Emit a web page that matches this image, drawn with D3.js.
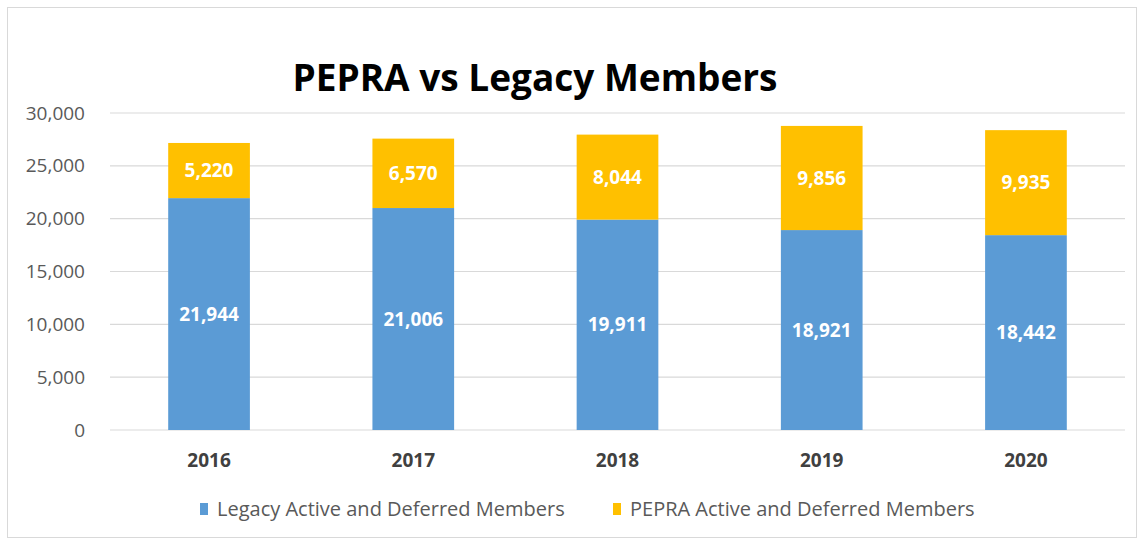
<!DOCTYPE html>
<html>
<head>
<meta charset="utf-8">
<script src="https://cdn.jsdelivr.net/npm/d3@7"></script>
<style>
  body { margin: 0; background: #fff; }
  text { font-family: "Open Sans", "Noto Sans", sans-serif; }
</style>
</head>
<body>
<div id="maViz"></div>
<script>
// Données
const years = ["2016", "2017", "2018", "2019", "2020"];
const legacy = [21944, 21006, 19911, 18921, 18442];
const pepra = [5220, 6570, 8044, 9856, 9935];
const yTicks = [0, 5000, 10000, 15000, 20000, 25000, 30000];
const seriesNames = ["Legacy Active and Deferred Members", "PEPRA Active and Deferred Members"];

const W = 1141, H = 542;
const margin = {top: 113, right: 16, bottom: 112, left: 110};
const width = W - margin.left - margin.right;
const height = H - margin.top - margin.bottom;
const colors = ["#5b9bd5", "#ffc000"];

const root = d3.select("#maViz").append("svg")
  .attr("width", W).attr("height", H);

// cadre
root.append("rect")
  .attr("x", 7.5).attr("y", 7.5)
  .attr("width", 1129).attr("height", 530)
  .attr("fill", "#fff").attr("stroke", "#d9d9d9");

const svg = root.append("g")
  .attr("transform", `translate(${margin.left},${margin.top})`);

// échelles
const x = d3.scaleBand()
  .domain(years)
  .range([0, width])
  .paddingInner(0.6)
  .paddingOuter(0.285);

const y = d3.scaleLinear()
  .domain([0, 30000])
  .range([height, 0]);

// grille
svg.append("g")
  .selectAll("line")
  .data(yTicks)
  .join("line")
    .attr("x1", 0).attr("x2", width)
    .attr("y1", d => y(d)).attr("y2", d => y(d))
    .attr("stroke", "#d9d9d9").attr("stroke-width", 1.2);

// axe Y
const yAxis = svg.append("g")
  .attr("transform", "translate(-22,0)")
  .call(d3.axisLeft(y).tickValues(yTicks).tickSize(0).tickFormat(d3.format(",")));
yAxis.select(".domain").remove();
yAxis.selectAll("text")
  .attr("fill", "#595959")
  .style("font-size", "19px")
  .style("font-family", "'Open Sans', sans-serif");

// axe X
const xAxis = svg.append("g")
  .attr("transform", `translate(0,${height + 20})`)
  .call(d3.axisBottom(x).tickSize(0));
xAxis.select(".domain").remove();
xAxis.selectAll("text")
  .attr("fill", "#404040")
  .style("font-size", "19px")
  .style("font-weight", "bold")
  .style("font-family", "'Open Sans', sans-serif");

// données empilées
const table = years.map((yr, i) => ({year: yr, legacy: legacy[i], pepra: pepra[i]}));
const stack = d3.stack().keys(["legacy", "pepra"])(table);

const groups = svg.append("g")
  .selectAll("g")
  .data(stack)
  .join("g")
    .attr("fill", (d, i) => colors[i]);

groups.selectAll("rect")
  .data(d => d)
  .join("rect")
    .attr("x", d => x(d.data.year))
    .attr("width", x.bandwidth())
    .attr("y", d => y(d[1]))
    .attr("height", d => y(d[0]) - y(d[1]));

groups.selectAll("text")
  .data(d => d.map(v => ({v, key: d.key})))
  .join("text")
    .attr("x", d => x(d.v.data.year) + x.bandwidth() / 2)
    .attr("y", d => y((d.v[0] + d.v[1]) / 2))
    .attr("dy", "0.35em")
    .attr("text-anchor", "middle")
    .attr("fill", "#fff")
    .style("font-size", "19px")
    .style("font-weight", "bold")
    .text(d => d3.format(",")(d.v.data[d.key]));

// titre
root.append("text")
  .attr("x", 535).attr("y", 91)
  .attr("text-anchor", "middle")
  .attr("fill", "#000")
  .style("font-size", "37px")
  .style("font-weight", "bold")
  .text("PEPRA vs Legacy Members");

// légende
const legendX = [200, 613];
const legend = root.append("g")
  .selectAll("g")
  .data(seriesNames)
  .join("g")
    .attr("transform", (d, i) => `translate(${legendX[i]},509)`);
legend.append("rect")
  .attr("x", 0).attr("y", -6)
  .attr("width", 8).attr("height", 12)
  .attr("fill", (d, i) => colors[i]);
legend.append("text")
  .attr("x", 17).attr("dy", "0.35em")
  .attr("fill", "#595959")
  .style("font-size", "20px")
  .text(d => d);
</script>
</body>
</html>
